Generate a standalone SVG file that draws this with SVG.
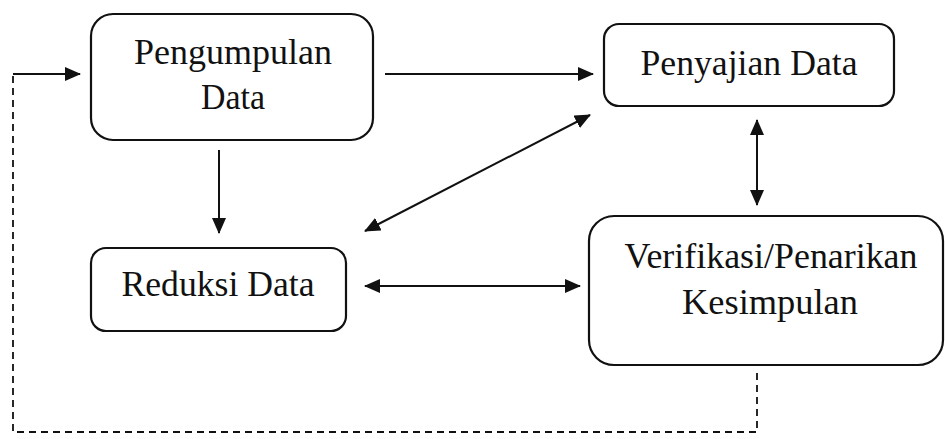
<svg xmlns="http://www.w3.org/2000/svg" width="945" height="439" viewBox="0 0 945 439">
<style>
.box{fill:#fff;stroke:#111;stroke-width:2.2}
.t{font-family:"Liberation Serif","Times New Roman",serif;font-size:35px;fill:#111;text-anchor:middle}
.c{stroke:#111;stroke-width:2;fill:none}
.d{stroke:#111;stroke-width:1.8;fill:none;stroke-dasharray:7 5}
</style>
<defs>
<marker id="ah" markerUnits="userSpaceOnUse" markerWidth="16" markerHeight="14" refX="15" refY="7" orient="auto-start-reverse">
<path d="M0,0 L16,7 L0,14 Z" fill="#111"/>
</marker>
</defs>
<rect width="945" height="439" fill="#fff"/>
<g id="node-pengumpulan">
<rect class="box" x="91" y="14" width="282" height="126" rx="22"/>
<text class="t" x="233" y="64" textLength="198" lengthAdjust="spacingAndGlyphs">Pengumpulan</text>
<text class="t" x="233" y="109" textLength="64" lengthAdjust="spacingAndGlyphs">Data</text>
</g>
<g id="node-penyajian">
<rect class="box" x="604" y="24" width="290" height="82" rx="15"/>
<text class="t" x="749" y="75" textLength="217" lengthAdjust="spacingAndGlyphs">Penyajian Data</text>
</g>
<g id="node-reduksi">
<rect class="box" x="91" y="248" width="255" height="83" rx="15"/>
<text class="t" x="218" y="296" textLength="193" lengthAdjust="spacingAndGlyphs">Reduksi Data</text>
</g>
<g id="node-verifikasi">
<rect class="box" x="589" y="216" width="354" height="149" rx="25"/>
<text class="t" x="771" y="268" textLength="293" lengthAdjust="spacingAndGlyphs">Verifikasi/Penarikan</text>
<text class="t" x="770" y="314" textLength="176" lengthAdjust="spacingAndGlyphs">Kesimpulan</text>
</g>
<g id="connectors">
<line class="c" x1="385" y1="74" x2="593" y2="74" marker-end="url(#ah)"/>
<line class="c" x1="219" y1="150" x2="219" y2="233" marker-end="url(#ah)"/>
<line class="c" x1="590" y1="115" x2="365" y2="231" marker-start="url(#ah)" marker-end="url(#ah)"/>
<line class="c" x1="757" y1="120" x2="757" y2="205" marker-start="url(#ah)" marker-end="url(#ah)"/>
<line class="c" x1="365" y1="286" x2="580" y2="286" marker-start="url(#ah)" marker-end="url(#ah)"/>
<polyline class="d" points="757,373 757,432 13,432 13,74"/>
<line class="c" x1="13" y1="74" x2="80" y2="74" marker-end="url(#ah)"/>
</g>
</svg>
